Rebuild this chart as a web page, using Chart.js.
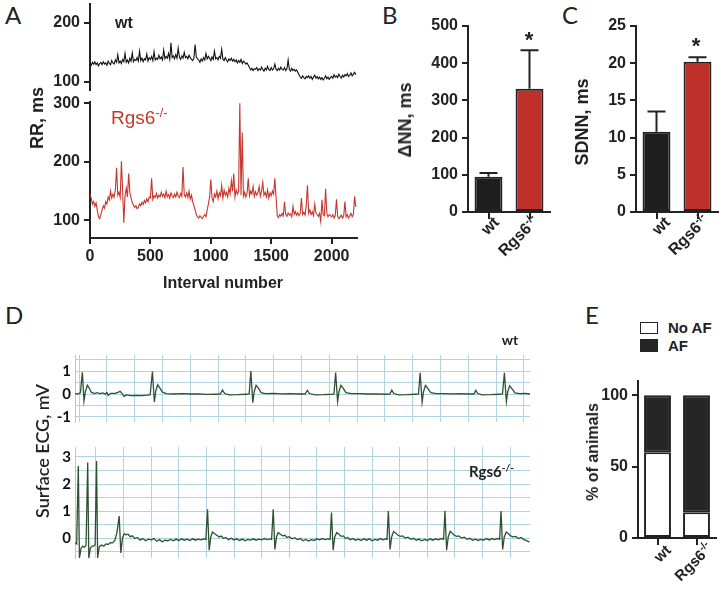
<!DOCTYPE html>
<html>
<head>
<meta charset="utf-8">
<script src="https://cdn.jsdelivr.net/npm/chart.js@4.4.0/dist/chart.umd.min.js"></script>
<style>
  body { margin: 0; width: 727px; height: 594px; position: relative; overflow: hidden; background: #fff;
         font-family: "Liberation Sans", Arial, sans-serif; color: #222; }
  canvas { position: absolute; }
  .t { position: absolute; white-space: nowrap; line-height: 1; }
  .c { transform: translate(-50%, -50%); }
  .v { transform: translate(-50%, -50%) rotate(-90deg); }
  .b { font-weight: bold; }
  .letter { font-family: Lato, sans-serif; font-size: 24px; }
  .ecg { font-family: Lato, sans-serif; font-weight: bold; }
  sup { font-size: 68%; vertical-align: 0; position: relative; top: -0.55em; }
  .rl { position: absolute; width: 0; height: 0; }
  .rl span { position: absolute; right: 0; top: 0; transform-origin: 100% 0; transform: rotate(-45deg);
             white-space: nowrap; font-weight: bold; line-height: 1; }
  .box { position: absolute; box-sizing: border-box; border: 1.5px solid #222; }
</style>
</head>
<body>
<canvas id="rrWtChart" width="332" height="96" style="left:30px;top:0px"></canvas>
<canvas id="rrKoChart" width="332" height="205" style="left:30px;top:92px"></canvas>
<canvas id="nnChart" width="156" height="208" style="left:400px;top:14px"></canvas>
<canvas id="sdnnChart" width="144" height="208" style="left:580px;top:14px"></canvas>
<canvas id="ecgWtChart" width="485" height="92" style="left:45px;top:345px"></canvas>
<canvas id="ecgKoChart" width="485" height="126" style="left:45px;top:437px"></canvas>
<canvas id="afChart" width="132" height="178" style="left:590px;top:370px"></canvas>

<div class="t letter" style="left:5px;top:3px">A</div>
<div class="t letter" style="left:382px;top:3px">B</div>
<div class="t letter" style="left:562px;top:3px">C</div>
<div class="t letter" style="left:5px;top:303px">D</div>
<div class="t letter" style="left:585px;top:303px">E</div>

<div class="t b" style="left:115px;top:15px;font-size:16px">wt</div>
<div class="t" style="left:111px;top:108px;font-size:19px;color:#c0392b">Rgs6<sup>-/-</sup></div>
<div class="t b v" style="left:37px;top:118px;font-size:18px">RR, ms</div>
<div class="t b c" style="left:223px;top:283px;font-size:16px">Interval number</div>

<div class="t b v" style="left:405px;top:120px;font-size:18px">&Delta;NN, ms</div>
<div class="t b c" style="left:529px;top:40px;font-size:22px">*</div>
<div class="t b v" style="left:582px;top:122px;font-size:18px">SDNN, ms</div>
<div class="t b c" style="left:696px;top:46px;font-size:22px">*</div>

<div class="t ecg c" style="left:510px;top:340px;font-size:14px">wt</div>
<div class="t ecg" style="left:469px;top:464px;font-size:15px">Rgs6<sup>-/-</sup></div>
<div class="t ecg v" style="left:42px;top:451px;font-size:18px;font-weight:600">Surface ECG, mV</div>

<div class="t b v" style="left:593px;top:452px;font-size:16px">% of animals</div>
<div class="box" style="left:640px;top:322px;width:18px;height:12px;background:#fff"></div>
<div class="box" style="left:640px;top:339px;width:18px;height:13px;background:#262626"></div>
<div class="t b" id="legNo" style="left:668px;top:320px;font-size:15px"></div>
<div class="t b" id="legAf" style="left:668px;top:338px;font-size:15px"></div>

<script>
// ---- panel A: RR intervals, one value every rrStep beats ----
const rrStep = 10;
const rrWt = [
  131,128,133,130,134,129,132,127,131,133,
  129,134,130,132,128,135,131,129,136,132,
  130,137,133,146,132,135,131,138,134,148,
  133,137,132,140,135,149,134,138,136,141,
  135,152,136,140,134,139,137,147,135,141,
  138,143,136,151,137,140,138,145,139,142,
  137,154,139,143,140,148,138,166,141,144,
  139,146,140,157,142,138,144,140,150,141,
  143,139,145,141,138,136,140,163,142,139,
  137,133,139,135,141,137,148,139,143,140,
  136,142,138,152,139,141,137,143,140,155,
  138,136,141,137,134,139,136,140,135,138,
  134,137,132,136,133,138,131,135,133,130,
  132,128,124,120,123,119,122,121,124,119,
  122,120,125,121,118,123,120,126,121,119,
  124,120,122,130,121,119,123,120,125,121,
  120,124,119,122,137,121,118,123,119,121,
  118,120,116,112,108,106,110,107,105,109,
  107,110,106,109,104,108,111,106,109,105,
  108,104,107,103,106,110,105,108,104,107,
  109,106,112,108,110,107,113,109,106,111,
  108,112,110,114,109,111,115,110,113,116,
  112
];
const rrKo = [
  145,138,128,132,124,130,118,106,103,110,
  118,125,121,132,128,140,135,150,138,145,
  140,152,190,143,148,139,201,150,96,142,
  155,140,180,148,138,130,126,122,125,120,
  122,128,125,131,127,134,130,137,132,140,
  138,172,136,142,139,146,138,143,140,148,
  141,145,139,150,140,144,138,147,142,139,
  145,140,148,142,139,146,141,191,144,140,
  147,139,150,136,143,132,125,118,110,106,
  104,108,105,103,107,110,106,118,128,140,
  170,138,132,145,140,150,137,147,142,160,
  138,152,143,148,140,155,145,168,150,180,
  140,152,145,150,300,143,250,141,148,140,
  146,172,142,150,145,158,141,149,143,147,
  158,141,150,165,143,148,140,152,138,147,
  142,150,145,172,140,108,105,110,107,112,
  108,132,110,107,113,109,111,106,124,110,
  115,109,113,108,112,138,110,114,109,126,
  160,112,118,110,115,108,128,113,110,107,
  112,98,135,110,108,154,112,106,110,108,
  106,110,104,108,136,107,103,106,109,104,
  108,132,106,110,104,108,112,106,110,141,
  123
];
const rrXTicks = [0, 500, 1000, 1500, 2000];
const rrWtTicks = [100, 200];
const rrKoTicks = [100, 200, 300];

// ---- panels B, C, E ----
const groups = ['wt', 'Rgs6-/-'];
const nnMean = [95, 331];
const nnSem = [10, 104];
const nnTicks = [0, 100, 200, 300, 400, 500];
const sdnnMean = [10.8, 20.2];
const sdnnSem = [2.7, 0.6];
const sdnnTicks = [0, 5, 10, 15, 20, 25];
const afSeries = ['No AF', 'AF'];
const noAf = [60, 18];
const withAf = [40, 82];
const afTicks = [0, 50, 100];

// ---- panel D: ECG traces, [time in grid squares, mV] ----
const ecgWt = [
  [-0.14,0.02],[-0.06,0.0],[0.0,0.03],[0.05,0.05],[0.12,0.95],[0.18,-0.3],[0.23,0.1],[0.3,0.38],[0.36,0.28],[0.44,0.08],
  [0.55,0.02],[0.65,0.06],[0.75,0.02],[0.85,0.05],[0.95,0.0],[1.0,0.07],[1.05,-0.06],[1.15,0.03],[1.3,0.03],[1.42,0.08],
  [1.48,0.12],[1.55,0.02],[1.62,-0.1],[1.7,-0.04],[1.85,-0.07],[2.05,-0.06],[2.25,-0.07],[2.45,-0.05],[2.56,-0.03],
  [2.64,0.98],[2.71,-0.35],[2.76,0.12],[2.83,0.4],[2.9,0.28],[3.0,0.08],[3.15,0.02],[3.4,0.0],[3.7,0.02],[4.0,0.0],
  [4.3,0.01],[4.6,-0.02],[4.9,-0.01],[5.08,0.0],[5.16,0.17],[5.24,0.02],[5.4,-0.04],[5.7,-0.03],[6.0,-0.01],[6.12,0.0],
  [6.18,1.0],[6.25,-0.38],[6.3,0.1],[6.37,0.38],[6.44,0.28],[6.55,0.06],[6.7,0.02],[7.0,0.03],[7.3,0.01],[7.6,0.02],
  [7.9,0.0],[8.13,0.0],[8.21,0.16],[8.29,0.02],[8.5,-0.04],[8.8,-0.03],[9.1,-0.01],[9.17,0.0],
  [9.23,0.93],[9.3,-0.33],[9.35,0.1],[9.42,0.38],[9.5,0.26],[9.6,0.06],[9.8,0.02],[10.1,0.02],[10.4,0.0],[10.7,0.01],
  [11.0,-0.01],[11.18,0.0],[11.25,0.17],[11.32,0.02],[11.5,-0.04],[11.8,-0.03],[12.1,-0.01],[12.21,0.0],
  [12.27,0.92],[12.34,-0.35],[12.39,0.1],[12.46,0.38],[12.53,0.27],[12.65,0.06],[12.85,0.02],[13.1,0.02],[13.4,0.01],
  [13.7,0.02],[14.0,0.0],[14.2,0.0],[14.27,0.16],[14.34,0.02],[14.5,-0.04],[14.8,-0.03],[15.1,-0.01],[15.23,0.0],
  [15.3,0.92],[15.37,-0.33],[15.42,0.1],[15.49,0.36],[15.56,0.25],[15.68,0.05],[15.85,0.02],[16.05,0.03],[16.22,0.0]
];
const ecgKo = [
  [-0.75,-0.18],[-0.7,-0.22],[-0.64,2.67],[-0.6,-0.74],[-0.54,-0.38],[-0.48,-0.3],[-0.42,-0.34],[-0.36,-0.28],
  [-0.3,2.8],[-0.26,-0.74],[-0.2,-0.36],[-0.14,-0.3],[-0.08,-0.3],[-0.03,-0.24],[0.02,2.85],[0.06,-0.74],[0.12,-0.32],
  [0.2,-0.26],[0.28,-0.3],[0.36,-0.22],[0.44,-0.24],[0.52,-0.17],[0.6,-0.18],[0.68,-0.1],[0.76,0.2],
  [0.84,0.81],[0.9,-0.55],[0.96,0.0],[1.02,0.16],[1.08,0.12],[1.16,0.14],[1.24,0.05],[1.32,0.08],[1.4,-0.02],[1.5,0.02],
  [1.6,-0.08],[1.7,-0.02],[1.8,-0.1],[1.9,-0.04],[2.0,-0.07],[2.1,-0.02],[2.2,-0.12],[2.3,-0.06],[2.4,-0.14],[2.5,-0.08],
  [2.6,-0.1],[2.7,-0.05],[2.8,-0.1],[2.9,-0.04],[3.0,-0.09],[3.1,-0.03],[3.2,-0.08],[3.3,-0.04],[3.4,-0.09],[3.5,-0.03],
  [3.6,-0.08],[3.7,-0.04],[3.8,-0.07],[3.9,-0.03],[3.98,-0.05],
  [4.04,1.06],[4.1,-0.45],[4.16,0.05],[4.22,0.22],[4.3,0.16],[4.38,0.1],[4.46,0.04],[4.54,0.07],[4.62,-0.02],[4.7,0.02],
  [4.8,-0.06],[4.9,-0.01],[5.0,-0.07],[5.1,-0.03],[5.2,-0.09],[5.3,-0.04],[5.4,-0.1],[5.5,-0.05],[5.6,-0.08],[5.7,-0.03],
  [5.8,-0.08],[5.9,-0.04],[6.0,-0.07],[6.1,-0.02],[6.2,-0.06],[6.3,-0.03],[6.36,-0.05],
  [6.42,1.06],[6.48,-0.42],[6.54,0.05],[6.6,0.2],[6.68,0.14],[6.76,0.08],[6.84,0.1],[6.92,0.02],[7.0,0.05],[7.1,-0.03],
  [7.2,0.01],[7.3,-0.06],[7.4,-0.02],[7.5,-0.1],[7.6,-0.05],[7.7,-0.11],[7.8,-0.06],[7.9,-0.09],[8.0,-0.03],[8.1,-0.07],
  [8.2,-0.02],[8.3,-0.06],[8.4,-0.03],[8.48,-0.05],
  [8.53,0.94],[8.59,-0.45],[8.65,0.05],[8.72,0.2],[8.8,0.14],[8.88,0.06],[8.96,0.08],[9.04,-0.02],[9.12,0.02],[9.2,-0.06],
  [9.3,-0.02],[9.4,-0.08],[9.5,-0.04],[9.6,-0.09],[9.7,-0.03],[9.8,-0.08],[9.9,-0.03],[10.0,-0.1],[10.1,-0.05],[10.2,-0.08],
  [10.3,-0.02],[10.4,-0.07],[10.5,-0.03],[10.54,-0.05],
  [10.59,1.0],[10.65,-0.42],[10.71,0.05],[10.78,0.24],[10.86,0.18],[10.94,0.1],[11.02,0.06],[11.1,0.08],[11.2,0.0],[11.3,0.03],
  [11.4,-0.05],[11.5,-0.01],[11.6,-0.08],[11.7,-0.04],[11.8,-0.1],[11.9,-0.05],[12.0,-0.09],[12.1,-0.03],[12.2,-0.08],[12.3,-0.03],
  [12.4,-0.07],[12.5,-0.02],[12.59,-0.05],
  [12.64,1.01],[12.7,-0.45],[12.76,0.05],[12.83,0.25],[12.9,0.18],[12.98,0.1],[13.06,0.06],[13.14,0.08],[13.24,0.0],[13.34,0.03],
  [13.44,-0.05],[13.54,-0.01],[13.64,-0.08],[13.74,-0.04],[13.84,-0.09],[13.94,-0.05],[14.04,-0.08],[14.14,-0.02],[14.24,-0.07],
  [14.34,-0.02],[14.44,-0.06],[14.54,-0.02],[14.62,-0.05],
  [14.67,1.0],[14.73,-0.42],[14.79,0.05],[14.86,0.22],[14.94,0.16],[15.02,0.08],[15.1,0.04],[15.2,0.06],[15.3,-0.02],[15.4,0.02],
  [15.5,-0.06],[15.6,-0.1],[15.7,-0.15]
];
const ecgWtTicks = [-1, -0.5, 0, 0.5, 1, 1.5];
const ecgKoTicks = [-0.5, 0, 0.5, 1, 1.5, 2, 2.5, 3];
const ecgCols = [0, 1, 2, 3, 4, 5, 6, 7, 8, 9, 10, 11, 12, 13, 14, 15, 16];

const ink = '#222';
const red = '#c0302a';
const boldFont = { family: 'Liberation Sans', weight: 'bold', size: 16 };

Chart.defaults.animation = false;
Chart.defaults.devicePixelRatio = 1;

function setTicks(vals) {
  return s => { s.ticks = vals.map(v => ({ value: v })); };
}
// fixed axis box, and no extra label padding pushed into the layout
function fitWidth(w) {
  return s => { s.width = w; s.paddingTop = 0; s.paddingBottom = 0; s.paddingLeft = 0; s.paddingRight = 0; };
}
function fitHeight(h) {
  return s => { s.height = h; s.paddingTop = 0; s.paddingBottom = 0; s.paddingLeft = 0; s.paddingRight = 0; };
}

// prism style axis: black line, outside tick marks, no grid
function prismAxis(extra) {
  return Object.assign({
    border: { display: true, color: ink, width: 2 },
    grid: { drawOnChartArea: false, drawTicks: true, tickLength: 6, color: ink, lineWidth: 2 },
    ticks: { color: ink, font: boldFont, padding: 4 }
  }, extra);
}

function baseOptions(pad, scales) {
  return {
    responsive: false,
    animation: false,
    layout: { autoPadding: false, padding: pad },
    plugins: { legend: { display: false }, tooltip: { enabled: false } },
    scales: scales
  };
}

const errorBars = {
  id: 'errorBars',
  afterDatasetsDraw(chart, args, opts) {
    if (!opts.errors) return;
    const ctx = chart.ctx;
    const y = chart.scales.y;
    const meta = chart.getDatasetMeta(0);
    ctx.save();
    ctx.strokeStyle = ink;
    ctx.lineWidth = 2;
    meta.data.forEach((bar, i) => {
      const v = chart.data.datasets[0].data[i];
      const top = y.getPixelForValue(v + opts.errors[i]);
      ctx.beginPath();
      ctx.moveTo(bar.x, y.getPixelForValue(v));
      ctx.lineTo(bar.x, top);
      ctx.moveTo(bar.x - opts.cap, top);
      ctx.lineTo(bar.x + opts.cap, top);
      ctx.stroke();
    });
    ctx.restore();
  }
};

// ---------- panel A ----------
function rrPoints(vals) {
  return vals.map((v, i) => ({ x: i * rrStep, y: v }));
}

new Chart(document.getElementById('rrWtChart'), {
  type: 'line',
  data: { datasets: [{ data: rrPoints(rrWt), borderColor: '#111', borderWidth: 1.1, pointRadius: 0 }] },
  options: baseOptions({ top: 4, bottom: 6, left: 0, right: 5 }, {
    x: { type: 'linear', min: 0, max: 2210, display: false },
    y: prismAxis({ min: 86, max: 232, afterBuildTicks: setTicks(rrWtTicks), afterFit: fitWidth(60) })
  })
});

new Chart(document.getElementById('rrKoChart'), {
  type: 'line',
  data: { datasets: [{ data: rrPoints(rrKo), borderColor: '#c8352c', borderWidth: 1.1, pointRadius: 0 }] },
  options: baseOptions({ top: 10, bottom: 0, left: 0, right: 5 }, {
    x: prismAxis({ type: 'linear', min: 0, max: 2210, afterBuildTicks: setTicks(rrXTicks),
                   afterFit: fitHeight(59),
                   ticks: { color: ink, font: boldFont, padding: 3, maxRotation: 0, callback: v => String(v) } }),
    y: prismAxis({ min: 70, max: 302, afterBuildTicks: setTicks(rrKoTicks), afterFit: fitWidth(60) })
  })
});

// ---------- panels B, C ----------
function barChartWithErrors(id, means, sems, yMax, yTicks, yWidth) {
  const opts = baseOptions({ top: 12, bottom: 2, left: 0, right: 6 }, {
    x: prismAxis({ offset: true, afterFit: fitHeight(8),
                   grid: { drawOnChartArea: false, drawTicks: true, tickLength: 7, color: ink, lineWidth: 2, offset: false },
                   ticks: { display: false } }),
    y: prismAxis({ min: 0, max: yMax, afterBuildTicks: setTicks(yTicks), afterFit: fitWidth(yWidth) })
  });
  opts.plugins.errorBars = { errors: sems, cap: 9 };
  return new Chart(document.getElementById(id), {
    type: 'bar',
    data: {
      labels: groups,
      datasets: [{
        data: means,
        backgroundColor: ['#1e1e1e', red],
        borderColor: ink,
        borderWidth: 2,
        borderSkipped: false,
        categoryPercentage: 1,
        barPercentage: 0.68
      }]
    },
    options: opts,
    plugins: [errorBars]
  });
}

barChartWithErrors('nnChart', nnMean, nnSem, 500, nnTicks, 68);
barChartWithErrors('sdnnChart', sdnnMean, sdnnSem, 25, sdnnTicks, 56);

// ---------- panel D ----------
const gridBlue = '#aed5df';
function ecgChart(id, trace, yMin, yMax, yTicks, xMin, xMax, padBottom) {
  new Chart(document.getElementById(id), {
    type: 'line',
    data: { datasets: [{ data: trace.map(p => ({ x: p[0], y: p[1] })), borderColor: '#2e5230',
                         borderWidth: 1.3, pointRadius: 0 }] },
    options: baseOptions({ top: 10, bottom: padBottom, left: 0, right: 0 }, {
      x: { type: 'linear', min: xMin, max: xMax, afterBuildTicks: setTicks(ecgCols),
           afterFit: fitHeight(0),
           border: { display: false },
           grid: { color: gridBlue, lineWidth: 1, drawTicks: false },
           ticks: { display: false, autoSkip: false } },
      y: { min: yMin, max: yMax, afterBuildTicks: setTicks(yTicks), afterFit: fitWidth(30),
           border: { display: true, color: '#c4c4c4', width: 1 },
           grid: { color: gridBlue, lineWidth: 1, drawTicks: false },
           ticks: { color: '#111', padding: 4, autoSkip: false, font: { family: 'Lato', weight: 'bold', size: 15 },
                    callback: v => (Number.isInteger(v) ? String(v) : '') } }
    })
  });
}
ecgChart('ecgWtChart', ecgWt, -1.22, 1.7, ecgWtTicks, -0.144, 16.22, 15);
ecgChart('ecgKoChart', ecgKo, -0.74, 3.37, ecgKoTicks, -0.76, 15.72, 5);

// ---------- panel E ----------
new Chart(document.getElementById('afChart'), {
  type: 'bar',
  data: {
    labels: groups,
    datasets: [
      { label: afSeries[0], data: noAf, backgroundColor: '#fff', borderColor: ink, borderWidth: 2,
        borderSkipped: false, categoryPercentage: 1, barPercentage: 0.69 },
      { label: afSeries[1], data: withAf, backgroundColor: '#262626', borderColor: ink, borderWidth: 2,
        borderSkipped: false, categoryPercentage: 1, barPercentage: 0.69 }
    ]
  },
  options: baseOptions({ top: 11, bottom: 2, left: 0, right: 6 }, {
    x: prismAxis({ stacked: true, offset: true, afterFit: fitHeight(8),
                   grid: { drawOnChartArea: false, drawTicks: true, tickLength: 7, color: ink, lineWidth: 2, offset: false },
                   ticks: { display: false } }),
    y: prismAxis({ stacked: true, min: 0, max: 110, afterBuildTicks: setTicks(afTicks), afterFit: fitWidth(48) })
  })
});
document.getElementById('legNo').textContent = afSeries[0];
document.getElementById('legAf').textContent = afSeries[1];

// rotated category labels under the bar panels
function groupLabel(name, x, y, size) {
  const d = document.createElement('div');
  d.className = 'rl';
  d.style.left = x + 'px';
  d.style.top = y + 'px';
  const s = document.createElement('span');
  s.style.fontSize = size + 'px';
  s.innerHTML = name.replace('-/-', '<sup>-/-</sup>');
  d.appendChild(s);
  document.body.appendChild(d);
}
groupLabel(groups[0], 491, 214, 16);
groupLabel(groups[1], 530, 213, 16);
groupLabel(groups[0], 662, 214, 16);
groupLabel(groups[1], 700, 212, 16);
groupLabel(groups[0], 663, 542, 15);
groupLabel(groups[1], 704, 540, 15);
</script>
</body>
</html>
